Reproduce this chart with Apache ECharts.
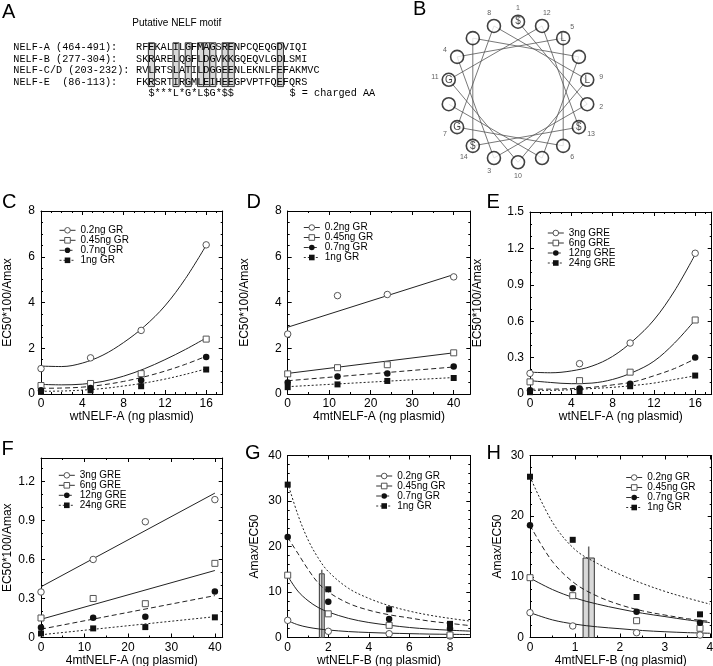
<!DOCTYPE html>
<html><head><meta charset="utf-8">
<script src="https://cdn.jsdelivr.net/npm/echarts@6/dist/echarts.min.js"></script>
<style>html,body{margin:0;padding:0;background:#fff}#c{width:713px;height:666px}</style>
</head><body><div id="c"></div>
<script>
const FONT = 'Liberation Sans, Arial, Helvetica, sans-serif';
const MONO = 'Liberation Mono, Courier New, monospace';

// ---------------- Panel A (alignment) ----------------
const motifTitle = 'Putative NELF motif';
const seqNames = ['NELF-A (464-491):', 'NELF-B (277-304):', 'NELF-C/D (203-232):', 'NELF-E  (86-113):'];
const seqs = ['RFEKALILGFMAGSRENPCQEQGDVIQI', 'SKRARELQGFLDGVKKGQEQVLGDLSMI', 'RVLRTSLATILDGGEENLEKNLFEFAKMVC', 'FKRSRTIRGMLEIHEEGPVPTFQEFQRS'];
const motifLine = '$***L*G*L$G*$$';
const motifNote = '$ = charged AA';
const boxCols = [2, 6, 8, 10, 11, 12, 14, 15, 23];

// ---------------- Panel B (helical wheel) ----------------
const wheelAngles = [0, 100, 200, 300, 40, 140, 240, 340, 80, 180, 280, 20, 120, 220, 320, 60, 160, 260];
const wheelResidues = ['$', '', '', '', 'L', '', 'G', '', 'L', '', 'G', '', '$', '$', '', '', '', ''];
const wheelNumbers = ['1', '2', '3', '4', '5', '6', '7', '8', '9', '10', '11', '12', '13', '14', '', '', '', ''];

// ---------------- Legends ----------------
const grNames = ['0.2ng GR', '0.45ng GR', '0.7ng GR', '1ng GR'];
const greNames = ['3ng GRE', '6ng GRE', '12ng GRE', '24ng GRE'];

// ---------------- Panel C ----------------
const cX = [0, 4.8, 9.7, 16];
const cY = [[1.11, 1.58, 2.78, 6.52], [0.37, 0.46, 0.89, 2.4], [0.16, 0.26, 0.6, 1.62], [0.09, 0.16, 0.34, 1.07]];
const cFitX = [0, 2, 4, 6, 8, 10, 12, 14, 16];
const cFit = [[1.22, 1.2, 1.35, 1.7, 2.25, 2.95, 3.85, 5.05, 6.5],
  [0.42, 0.4, 0.43, 0.55, 0.78, 1.1, 1.5, 1.95, 2.45],
  [0.25, 0.26, 0.3, 0.4, 0.55, 0.75, 1.0, 1.3, 1.65],
  [0.12, 0.13, 0.17, 0.24, 0.35, 0.48, 0.65, 0.86, 1.1]];

// ---------------- Panel D ----------------
const dX = [0, 12, 24, 40];
const dY = [[2.62, 4.3, 4.35, 5.12], [0.88, 1.15, 1.28, 1.8], [0.5, 0.76, 0.9, 1.2], [0.3, 0.42, 0.57, 0.7]];
const dFitX = [0, 40];
const dFit = [[2.92, 5.22], [0.9, 1.8], [0.58, 1.18], [0.32, 0.72]];

// ---------------- Panel E ----------------
const eX = [0, 4.8, 9.7, 16];
const eY = [[0.17, 0.25, 0.42, 1.16], [0.1, 0.11, 0.18, 0.61], [0.03, 0.045, 0.085, 0.3], [0.015, 0.022, 0.064, 0.152]];
const eFitX = [0, 2, 4, 6, 8, 10, 12, 14, 16];
const eFit = [[0.18, 0.175, 0.19, 0.23, 0.31, 0.44, 0.61, 0.85, 1.15],
  [0.11, 0.095, 0.085, 0.09, 0.12, 0.18, 0.27, 0.42, 0.61],
  [0.04, 0.04, 0.045, 0.055, 0.075, 0.1, 0.15, 0.21, 0.29],
  [0.03, 0.03, 0.035, 0.045, 0.055, 0.07, 0.09, 0.12, 0.15]];

// ---------------- Panel F ----------------
const fX = [0, 12, 24, 40];
const fY = [[0.35, 0.6, 0.89, 1.06], [0.15, 0.3, 0.26, 0.57], [0.077, 0.152, 0.16, 0.353], [0.031, 0.07, 0.08, 0.155]];
const fFitX = [0, 40];
const fFit = [[0.39, 1.11], [0.14, 0.515], [0.064, 0.322], [0.021, 0.16]];

// ---------------- Panel G ----------------
const gX = [0, 2, 5, 8];
const gY = [[3.77, 1.36, 0.83, 0.33], [13.7, 5.2, 2.67, 0.55], [22.1, 7.85, 4.05, 2.0], [33.6, 10.6, 6.2, 3.0]];
const gFitX = [0, 0.5, 1, 1.5, 2, 3, 4, 5, 6, 7, 8, 9];
const gFit = [[3.7, 2.8, 2.25, 1.9, 1.65, 1.3, 1.1, 0.95, 0.85, 0.75, 0.7, 0.65],
  [13.5, 10.2, 8.1, 6.6, 5.6, 4.2, 3.3, 2.7, 2.2, 1.85, 1.6, 1.4],
  [22, 18.5, 15, 12, 10, 7.5, 6, 5, 4.3, 3.6, 3.1, 2.6],
  [34, 27, 21.5, 17.5, 14.5, 10.8, 8.6, 7.0, 5.8, 4.9, 4.2, 3.6]];
const gBar = [1.56, 1.80, 14.0, 14.9];   // [xStart, xEnd, height, errorTop]

// ---------------- Panel H ----------------
const hX = [0, 0.95, 2.37, 3.78];
const hY = [[4.09, 1.9, 0.79, 0.41], [9.86, 6.89, 2.77, 1.52], [18.5, 8.1, 4.25, 2.44], [26.5, 16.1, 6.68, 3.82]];
const hFitX = [0, 0.5, 1, 1.5, 2, 2.5, 3, 3.5, 4];
const hFit = [[4.1, 2.9, 2.2, 1.75, 1.45, 1.15, 0.95, 0.8, 0.7],
  [9.8, 7.9, 6.5, 5.5, 4.7, 4.0, 3.45, 2.9, 2.45],
  [18.5, 12.5, 8.9, 6.8, 5.4, 4.4, 3.7, 3.1, 2.65],
  [26.5, 19, 14.5, 12.2, 10.4, 8.9, 7.6, 6.5, 5.5]];
const hBar = [1.18, 1.43, 13.1, 15.0];

// ================= build =================
const marks = [
  {symbol: 'circle', fill: '#fff', stroke: '#555', bw: 1, size: 6.5},
  {symbol: 'rect', fill: '#fff', stroke: '#555', bw: 1, size: 6},
  {symbol: 'circle', fill: '#111', stroke: '#111', bw: 0, size: 6.5},
  {symbol: 'rect', fill: '#111', stroke: '#111', bw: 0, size: 6}
];
const lineTypes = ['solid', 'solid', [5, 3], [2, 2]];

const grids = [], xAxes = [], yAxes = [], series = [], legends = [];

function addPanel(p) {
  const gi = grids.length;
  grids.push({left: p.box[0], top: p.box[1], width: p.box[2], height: p.box[3], containLabel: false, outerBoundsMode: 'none'});
  const axLine = {show: true, onZero: false, lineStyle: {color: '#000', width: 1}};
  const tick = {show: true, inside: true, length: 4, lineStyle: {color: '#000', width: 1}};
  const minorX = {show: true, splitNumber: p.xMinor, length: 2, lineStyle: {color: '#000', width: 1}};
  const minorY = {show: true, splitNumber: p.yMinor, length: 2, lineStyle: {color: '#000', width: 1}};
  const xi = xAxes.length, yi = yAxes.length;
  const xBase = {gridIndex: gi, type: 'value', min: 0, max: p.xMax, interval: p.xInt, splitLine: {show: false}, axisLine: axLine, axisTick: tick, minorTick: minorX};
  const yBase = {gridIndex: gi, type: 'value', min: 0, max: p.yMax, interval: p.yInt, splitLine: {show: false}, axisLine: axLine, axisTick: tick, minorTick: minorY};
  xAxes.push(Object.assign({}, xBase, {position: 'bottom', name: p.xName, nameLocation: 'middle', nameGap: 16,
    nameTextStyle: {fontSize: 12, fontFamily: FONT, color: '#000'},
    axisLabel: {fontSize: 12, fontFamily: FONT, color: '#000', margin: 4, showMaxLabel: p.xShowMax}}));
  xAxes.push(Object.assign({}, xBase, {position: 'top', axisLabel: {show: false}}));
  yAxes.push(Object.assign({}, yBase, {position: 'left', name: p.yName, nameLocation: 'middle', nameGap: p.yGap,
    nameTextStyle: {fontSize: 12, fontFamily: FONT, color: '#000'},
    axisLabel: {fontSize: 12, fontFamily: FONT, color: '#000', margin: 6, showMaxLabel: p.yShowMax,
      formatter: p.yFmt}}));
  yAxes.push(Object.assign({}, yBase, {position: 'right', axisLabel: {show: false}}));

  for (let k = 0; k < 4; k++) {
    const m = marks[k];
    series.push({
      type: 'line', name: p.names[k], xAxisIndex: xi, yAxisIndex: yi,
      data: p.fitX.map((x, j) => [x, p.fit[k][j]]),
      smooth: p.fitX.length > 2 ? 0.35 : false,
      symbol: m.symbol, showSymbol: false, silent: true,
      itemStyle: {color: m.fill, borderColor: m.stroke, borderWidth: m.bw},
      lineStyle: {color: '#222', width: 1, type: lineTypes[k]},
      z: 2
    });
    series.push({
      type: 'scatter', name: p.names[k] + ' pts', xAxisIndex: xi, yAxisIndex: yi,
      data: p.x.map((x, j) => [x, p.y[k][j]]),
      symbol: m.symbol, symbolSize: m.size, silent: true,
      itemStyle: {color: m.fill, borderColor: m.stroke, borderWidth: m.bw, opacity: 1},
      z: 3
    });
  }
  if (p.bar) {
    series.push({
      type: 'custom', xAxisIndex: xi, yAxisIndex: yi, silent: true, z: 1,
      data: [p.bar],
      renderItem: function (params, api) {
        const x0 = api.value(0), x1 = api.value(1), h = api.value(2), e = api.value(3);
        const a = api.coord([x0, h]), b = api.coord([x1, 0]);
        const xc = (x0 + x1) / 2;
        const c0 = api.coord([xc, 0]), c1 = api.coord([xc, e]);
        return {type: 'group', children: [
          {type: 'rect', shape: {x: a[0], y: a[1], width: b[0] - a[0], height: b[1] - a[1]},
            style: {fill: '#d9d9d9', stroke: '#333', lineWidth: 1}},
          {type: 'line', shape: {x1: c0[0], y1: c0[1], x2: c1[0], y2: c1[1]},
            style: {stroke: '#666', lineWidth: 1.5}}
        ]};
      }
    });
  }
  legends.push({
    orient: 'vertical', left: p.leg[0], top: p.leg[1], itemWidth: 16, itemHeight: 7, itemGap: 0,
    selectedMode: false, padding: 0,
    textStyle: {fontSize: 10, fontFamily: FONT, color: '#000', lineHeight: 9.6},
    data: p.names.map((n, k) => ({
      name: n,
      itemStyle: {color: marks[k].fill, borderColor: marks[k].stroke, borderWidth: marks[k].bw},
      lineStyle: {color: '#333', width: 1, type: lineTypes[k]}
    }))
  });
}

addPanel({box: [41, 211, 181.7, 183], xMax: 17.6, xInt: 4, xMinor: 4, yMax: 8, yInt: 2, yMinor: 4,
  xShowMax: false, yShowMax: true, xName: 'wtNELF-A (ng plasmid)', yName: 'EC50*100/Amax', yGap: 27.5,
  names: grNames, x: cX, y: cY, fitX: cFitX, fit: cFit, leg: [59, 225.3]});
addPanel({box: [287.7, 211, 182.6, 183], xMax: 44, xInt: 10, xMinor: 2, yMax: 8, yInt: 2, yMinor: 4,
  xShowMax: false, yShowMax: true, xName: '4mtNELF-A (ng plasmid)', yName: 'EC50*100/Amax', yGap: 37.5,
  names: grNames, x: dX, y: dY, fitX: dFitX, fit: dFit, leg: [303.3, 222.5]});
addPanel({box: [530, 212, 181.7, 182], xMax: 17.6, xInt: 4, xMinor: 4, yMax: 1.5, yInt: 0.3, yMinor: 3,
  xShowMax: false, yShowMax: true, xName: 'wtNELF-A (ng plasmid)', yName: 'EC50*100/Amax', yGap: 46.5,
  yFmt: v => (v === 0 ? '0' : v.toFixed(1)),
  names: greNames, x: eX, y: eY, fitX: eFitX, fit: eFit, leg: [547.3, 228]});
addPanel({box: [41, 458, 181.7, 179.5], xMax: 41.8, xInt: 10, xMinor: 2, yMax: 1.38, yInt: 0.3, yMinor: 3,
  xShowMax: false, yShowMax: false, xName: '4mtNELF-A (ng plasmid)', yName: 'EC50*100/Amax', yGap: 27.5,
  yFmt: v => (v === 0 ? '0' : v.toFixed(1)),
  names: greNames, x: fX, y: fY, fitX: fFitX, fit: fFit, leg: [58.3, 470.3]});
addPanel({box: [287.7, 455.5, 182.6, 182], xMax: 9, xInt: 2, xMinor: 2, yMax: 40, yInt: 10, yMinor: 5,
  xShowMax: false, yShowMax: true, xName: 'wtNELF-B (ng plasmid)', yName: 'Amax/EC50', yGap: 27.5,
  names: grNames, x: gX, y: gY, fitX: gFitX, fit: gFit, bar: gBar, leg: [375.7, 471]});
addPanel({box: [530, 455.5, 181.7, 182], xMax: 4.04, xInt: 1, xMinor: 2, yMax: 30, yInt: 10, yMinor: 5,
  xShowMax: false, yShowMax: true, xName: '4mtNELF-B (ng plasmid)', yName: 'Amax/EC50', yGap: 26.5,
  names: grNames, x: hX, y: hY, fitX: hFitX, fit: hFit, bar: hBar, leg: [625.7, 472.5]});

// ---------- helical wheel series ----------
const wheelR = 70.3, wheelRMax = 1.3;
series.push({
  type: 'line', coordinateSystem: 'polar', polarIndex: 0, silent: true, z: 1, clip: false,
  data: wheelAngles.map(a => [1, a]), symbol: 'none', smooth: false,
  lineStyle: {color: '#555', width: 0.8}
});
series.push({
  type: 'scatter', coordinateSystem: 'polar', polarIndex: 0, silent: true, z: 3, clip: false,
  data: wheelAngles.map((a, i) => ({value: [1, a], label: {formatter: wheelResidues[i]}})),
  symbol: 'circle', symbolSize: 13,
  itemStyle: {color: '#fff', borderColor: '#111', borderWidth: 1.6},
  label: {show: true, position: 'inside', fontSize: 10, fontFamily: FONT, color: '#111'}
});
series.push({
  type: 'scatter', coordinateSystem: 'polar', polarIndex: 0, silent: true, z: 3, clip: false,
  data: wheelAngles.map((a, i) => ({value: [1.2, a], label: {formatter: wheelNumbers[i]}})),
  symbol: 'circle', symbolSize: 0.5, itemStyle: {color: '#fff'},
  label: {show: true, position: 'inside', fontSize: 7, fontFamily: FONT, color: '#333'}
});

// ---------- graphics: panel letters and alignment ----------
const graphics = [];
const letters = [['A', 2, 12.5], ['B', 413, 9.5], ['C', 2, 202.5], ['D', 246.5, 202.5], ['E', 486.5, 202.5],
  ['F', 1.5, 449.5], ['G', 245, 453], ['H', 486.5, 453]];
letters.forEach(l => graphics.push({type: 'text', x: l[1], y: l[2],
  style: {text: l[0], fontSize: 20, fontFamily: FONT, fill: '#000', align: 'left', verticalAlign: 'middle'}}));

const charW = 6.14, textX0 = 13.3, seqCol0 = 20, rowY0 = 47.3, rowStep = 11.6;
graphics.push({type: 'text', x: 176.7, y: 23.5, style: {text: motifTitle, fontSize: 10, fontFamily: FONT, fill: '#000', align: 'center', verticalAlign: 'middle'}});
boxCols.forEach(c => graphics.push({type: 'rect', z: 0,
  shape: {x: textX0 + (seqCol0 + c) * charW, y: rowY0 - 4.5, width: charW, height: rowStep * 3 + 9},
  style: {fill: '#d8d8d8', stroke: '#222', lineWidth: 0.9}}));
seqNames.forEach((n, i) => {
  graphics.push({type: 'text', x: textX0, y: rowY0 + i * rowStep, z: 1,
    style: {text: n, fontSize: 10.2, fontFamily: MONO, fill: '#000', align: 'left', verticalAlign: 'middle'}});
  graphics.push({type: 'text', x: textX0 + seqCol0 * charW, y: rowY0 + i * rowStep, z: 1,
    style: {text: seqs[i], fontSize: 10.2, fontFamily: MONO, fill: '#000', align: 'left', verticalAlign: 'middle'}});
});
graphics.push({type: 'text', x: textX0 + (seqCol0 + 2) * charW, y: rowY0 + 4 * rowStep, z: 1,
  style: {text: motifLine, fontSize: 10.2, fontFamily: MONO, fill: '#000', align: 'left', verticalAlign: 'middle'}});
graphics.push({type: 'text', x: textX0 + 45 * charW, y: rowY0 + 4 * rowStep, z: 1,
  style: {text: motifNote, fontSize: 10.2, fontFamily: MONO, fill: '#000', align: 'left', verticalAlign: 'middle'}});

const option = {
  animation: false,
  backgroundColor: '#fff',
  textStyle: {fontFamily: FONT},
  grid: grids, xAxis: xAxes, yAxis: yAxes,
  polar: {center: [518, 92], radius: wheelR * wheelRMax},
  angleAxis: {polarIndex: 0, type: 'value', min: 0, max: 360, startAngle: 90, clockwise: true,
    axisLine: {show: false}, axisTick: {show: false}, axisLabel: {show: false}, splitLine: {show: false}, splitArea: {show: false}},
  radiusAxis: {polarIndex: 0, type: 'value', min: 0, max: wheelRMax,
    axisLine: {show: false}, axisTick: {show: false}, axisLabel: {show: false}, splitLine: {show: false}, splitArea: {show: false}},
  legend: legends,
  series: series,
  graphic: graphics
};
const chart = echarts.init(document.getElementById('c'));
chart.setOption(option);
</script></body></html>
